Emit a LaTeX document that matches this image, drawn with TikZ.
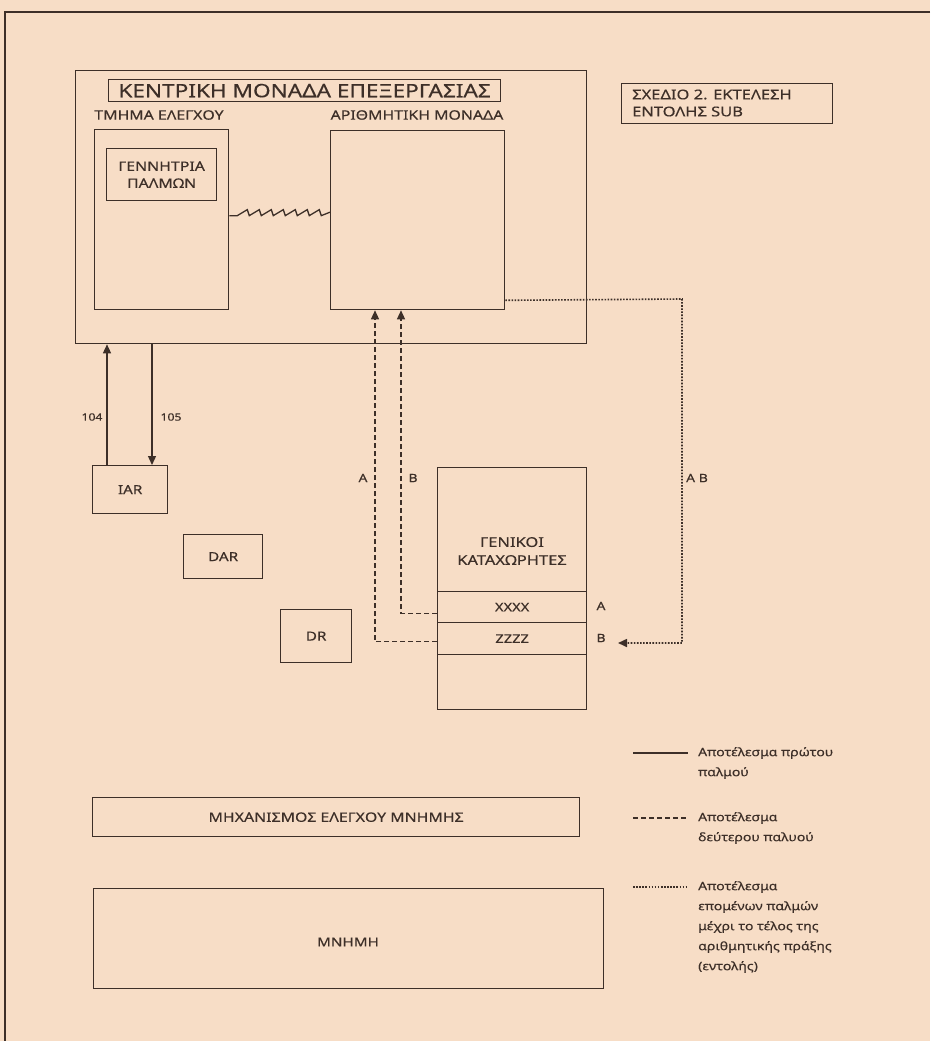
\documentclass[tikz,border=0pt]{standalone}
\usepackage{fontspec}
\setmainfont{Noto Sans}[FakeStretch=1.22,FakeBold=0.4]
\usetikzlibrary{arrows.meta,calc}
\definecolor{paper}{HTML}{F7DDC6}
\definecolor{ink}{HTML}{3D2F28}
\begin{document}
\begin{tikzpicture}[x=1pt,y=-1pt,
  every node/.style={text=ink},
  box/.style={draw=ink,line width=1.3pt,inner sep=0pt,anchor=north west},
  lbl/.style={inner sep=0pt,font=\fontsize{13}{15}\selectfont},
  small/.style={inner sep=0pt,font=\fontsize{10}{12}\selectfont},
  mid/.style={inner sep=0pt,font=\fontsize{11.5}{13}\selectfont},
  legtxt/.style={inner sep=0pt,anchor=north west,align=left,font=\fontsize{11.5}{20}\selectfont},
  conn/.style={draw=ink,line width=1.3pt},
  dashline/.style={conn,dash pattern=on 5pt off 3pt},
  dotline/.style={conn,line width=1.6pt,dash pattern=on 1.6pt off 1.5pt},
  tip/.style={-{Triangle[length=9pt,width=8pt]}}
]
\fill[paper] (0,0) rectangle (930,1041);
\useasboundingbox (0,0) rectangle (930,1041);
% page frame
\draw[ink,line width=1.4pt] (930,12) -- (5,12) -- (5,1041);

% CPU
\node[box,minimum width=511pt,minimum height=273pt] (cpu) at (75,70) {};
\node[box,minimum width=392pt,minimum height=22pt,font=\fontsize{18.5}{20}\selectfont] (title) at (108,79) {ΚΕΝΤΡΙΚΗ ΜΟΝΑΔΑ ΕΠΕΞΕΡΓΑΣΙΑΣ};
\node[lbl] (tmima) at (159,115) {ΤΜΗΜΑ ΕΛΕΓΧΟΥ};
\node[lbl] (arith) at (417,115) {ΑΡΙΘΜΗΤΙΚΗ ΜΟΝΑΔΑ};
\node[box,minimum width=134pt,minimum height=180pt] (ctrl) at (94,129) {};
\node[box,minimum width=110pt,minimum height=52pt,align=center,font=\fontsize{13}{17}\selectfont] (gen) at (106,148) {ΓΕΝΝΗΤΡΙΑ\\ΠΑΛΜΩΝ};
\node[box,minimum width=174pt,minimum height=179pt] (alu) at (330,130) {};
\draw[conn] ($(ctrl.east)+(0,-4)$) -- ++(8,0)
  foreach \i in {1,...,7} { -- ++(10,-6) -- ++(2,6) } -- ($(alu.west)+(0,-8)$);

% title box
\node[box,minimum width=211pt,minimum height=40pt] (sxedio) at (621,83) {};
\node[inner sep=0pt,anchor=west,align=left,font=\fontsize{13.5}{17}\selectfont] (sxtxt) at (632,103) {ΣΧΕΔΙΟ 2. ΕΚΤΕΛΕΣΗ\\ΕΝΤΟΛΗΣ SUB};

% IAR, DAR, DR
\node[box,minimum width=75pt,minimum height=48pt,font=\fontsize{12.5}{14}\selectfont] (iar) at (92,465) {IAR};
\node[box,minimum width=79pt,minimum height=44pt,font=\fontsize{12.5}{14}\selectfont] (dar) at (183,534) {DAR};
\node[box,minimum width=71pt,minimum height=53pt,font=\fontsize{12.5}{14}\selectfont] (dr) at (280,609) {DR};
\coordinate (i104) at ($(iar.north west)+(15,0)$);
\coordinate (i105) at ($(iar.north west)+(60,0)$);
\draw[conn,tip] (i104) -- (i104 |- cpu.south);
\draw[conn,tip] (i105 |- cpu.south) -- (i105);
\node[small] (l104) at (92,417) {104};
\node[small] (l105) at (171,417) {105};

% registers
\node[box,minimum width=149pt,minimum height=124pt] (regtop) at (437,467) {};
\node[inner sep=0pt,align=center,font=\fontsize{13.5}{18}\selectfont] (reglbl) at (512,551) {ΓΕΝΙΚΟΙ\\ΚΑΤΑΧΩΡΗΤΕΣ};
\node[box,minimum width=149pt,minimum height=31pt,font=\fontsize{12}{13}\selectfont] (xxxx) at (437,591) {XXXX};
\node[box,minimum width=149pt,minimum height=32pt,font=\fontsize{12}{13}\selectfont] (zzzz) at (437,622) {ZZZZ};
\node[box,minimum width=149pt,minimum height=55pt] (regbot) at (437,654) {};
\node[mid] (rA) at (601,606) {A};
\node[mid] (rB) at (601,638) {B};

% dashed (second pulse)
\coordinate (bB) at ($(xxxx.west)+(0,6)$);
\coordinate (bA) at ($(zzzz.west)+(0,3)$);
\coordinate (tB) at ($(alu.south west)+(71,0)$);
\coordinate (tA) at ($(alu.south west)+(45,0)$);
\draw[dashline,tip] (bB) -| (tB);
\draw[dashline,tip] (bA) -| (tA);
\node[mid] (labA) at (363,478) {A};
\node[mid] (labB) at (413,478) {B};

% dotted (following pulses)
\coordinate (dstart) at ($(alu.south east)+(0,-10)$);
\coordinate (dend) at (618,643);
\draw[dotline,tip] (dstart) -- (682,299) -- (682,643) -- (dend);
\node[mid] (labAB) at (697,478) {A B};

% memory
\node[box,minimum width=487pt,minimum height=39pt,font=\fontsize{13}{15}\selectfont] (mech) at (92,797) {ΜΗΧΑΝΙΣΜΟΣ ΕΛΕΓΧΟΥ ΜΝΗΜΗΣ};
\node[box,minimum width=510pt,minimum height=100pt] (mem) at (93,888) {};
\node[inner sep=0pt,font=\fontsize{12.5}{14}\selectfont] (memlbl) at (348,942) {ΜΝΗΜΗ};

% legend
\coordinate (s1) at (633,753); \coordinate (e1) at (688,753);
\coordinate (s2) at (633,818); \coordinate (e2) at (688,818);
\coordinate (s3) at (633,887); \coordinate (e3) at (688,887);
\draw[conn] (s1) -- (e1);
\draw[dashline,line width=1.1pt] (s2) -- (e2);
\draw[dotline,line width=1.3pt] (s3) -- (e3);
\node[legtxt] (leg1) at (698,747) {Αποτέλεσμα πρώτου\\παλμού};
\node[legtxt] (leg2) at (698,812) {Αποτέλεσμα\\δεύτερου παλυού};
\node[legtxt] (leg3) at (698,881) {Αποτέλεσμα\\επομένων παλμών\\μέχρι το τέλος της\\αριθμητικής πράξης\\(εντολής)};
\end{tikzpicture}
\end{document}
